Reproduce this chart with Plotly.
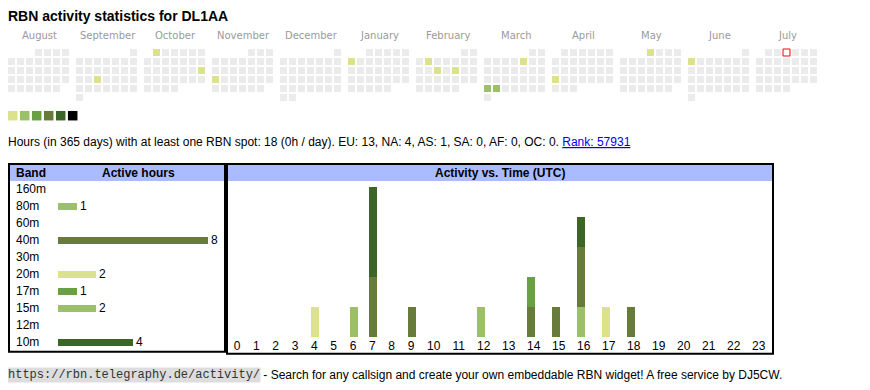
import datetime as dt
import plotly.graph_objects as go

# The page body adds an 8px margin, so the figure is sized to fill the rest of the window.
OFF = 8
SCREEN_W, SCREEN_H = 870, 390
W, H = SCREEN_W - OFF, SCREEN_H - OFF
TXT_PAD = 2  # annotation inner padding (border + borderpad)

# ---------------- data ----------------
TITLE = "RBN activity statistics for DL1AA"
MONTH_NAMES = ["August", "September", "October", "November", "December", "January",
               "February", "March", "April", "May", "June", "July"]
FIRST_YEAR, FIRST_MONTH = 2024, 8
TODAY = "2025-07-03"
ACTIVE_DATES = ["2024-09-18", "2024-10-01", "2024-10-20", "2024-11-18", "2025-01-06",
                "2025-02-04", "2025-02-12", "2025-02-14", "2025-03-07", "2025-03-24",
                "2025-03-25", "2025-04-21", "2025-05-01", "2025-06-02"]
ACTIVE_DATE_HOURS = [1, 1, 1, 1, 1, 1, 1, 1, 1, 3, 3, 1, 1, 1]
LEVEL_MIN_HOURS = [1, 2, 4, 6, 9, 13]
LEVEL_COLORS = ["#dbe28b", "#9cc06a", "#68a043", "#677b3b", "#3c6627", "#000000"]
EMPTY_COLOR = "#ebebeb"

INFO_TEXT = ("Hours (in 365 days) with at least one RBN spot: 18 (0h / day). "
             "EU: 13, NA: 4, AS: 1, SA: 0, AF: 0, OC: 0. ")
RANK_TEXT = "Rank: 57931"

BANDS = ["160m", "80m", "60m", "40m", "30m", "20m", "17m", "15m", "12m", "10m"]
BAND_HOURS = [0, 1, 0, 8, 0, 2, 1, 2, 0, 4]
BAND_COLORS = ["#cccccc", "#9cc06a", "#cccccc", "#677b3b", "#cccccc",
               "#dbe28b", "#68a043", "#9cc06a", "#cccccc", "#3c6627"]

HOURS = list(range(24))
ACT_80M = [0, 0, 0, 0, 0, 0, 0, 0, 0, 0, 0, 0, 0, 0, 0, 0, 1, 0, 0, 0, 0, 0, 0, 0]
ACT_40M = [0, 0, 0, 0, 0, 0, 0, 2, 0, 1, 0, 0, 0, 0, 1, 1, 2, 0, 1, 0, 0, 0, 0, 0]
ACT_20M = [0, 0, 0, 0, 1, 0, 0, 0, 0, 0, 0, 0, 0, 0, 0, 0, 0, 1, 0, 0, 0, 0, 0, 0]
ACT_17M = [0, 0, 0, 0, 0, 0, 0, 0, 0, 0, 0, 0, 0, 0, 1, 0, 0, 0, 0, 0, 0, 0, 0, 0]
ACT_15M = [0, 0, 0, 0, 0, 0, 1, 0, 0, 0, 0, 0, 1, 0, 0, 0, 0, 0, 0, 0, 0, 0, 0, 0]
ACT_10M = [0, 0, 0, 0, 0, 0, 0, 3, 0, 0, 0, 0, 0, 0, 0, 0, 1, 0, 0, 0, 0, 0, 0, 0]
ACTIVITY = [("80m", ACT_80M), ("40m", ACT_40M), ("20m", ACT_20M),
            ("17m", ACT_17M), ("15m", ACT_15M), ("10m", ACT_10M)]

FOOTER_URL = "https://rbn.telegraphy.de/activity/"
FOOTER_TEXT = " - Search for any callsign and create your own embeddable RBN widget! A free service by DJ5CW."

SANS = "Liberation Sans, Arial, sans-serif"


def fx(px):
    return (px - OFF) / W


def fy(py):
    return (SCREEN_H - py) / H


# ---------------- layout geometry (screen pixels) ----------------
CAL_LEFT, CAL_TOP = 8, 49
CELL, PITCH, BLOCK = 7, 9, 68

fig = go.Figure()

# ---------------- calendar ----------------
active = {d: h for d, h in zip(ACTIVE_DATES, ACTIVE_DATE_HOURS)}


def level_of(hours):
    lv = 0
    for i, m in enumerate(LEVEL_MIN_HOURS):
        if hours >= m:
            lv = i
    return lv


cx, cy, ccol, lcol, lw = [], [], [], [], []
ann = []
for m in range(12):
    y = FIRST_YEAR + (FIRST_MONTH - 1 + m) // 12
    mo = (FIRST_MONTH - 1 + m) % 12 + 1
    first = dt.date(y, mo, 1)
    nxt = dt.date(y + (mo == 12), mo % 12 + 1, 1)
    ndays = (nxt - first).days
    wd0 = first.weekday()
    left = CAL_LEFT + BLOCK * m
    for d in range(1, ndays + 1):
        idx = wd0 + d - 1
        col, row = idx % 7, idx // 7
        cx.append(left + PITCH * col + CELL / 2)
        cy.append(CAL_TOP + PITCH * row + CELL / 2)
        key = dt.date(y, mo, d).isoformat()
        if key in active:
            ccol.append(LEVEL_COLORS[level_of(active[key])])
        elif key == TODAY:
            ccol.append("#ffffff")
        else:
            ccol.append(EMPTY_COLOR)
        if key == TODAY:
            lcol.append("#ff0000")
            lw.append(1)
        else:
            lcol.append("rgba(0,0,0,0)")
            lw.append(0)
    ann.append(dict(text=MONTH_NAMES[m], x=left + (7 * PITCH - 2) / 2 + 1, y=35.8,
                    xref="x", yref="y", xanchor="center", yanchor="middle",
                    font=dict(family="DejaVu Sans", size=10, color="#9a9a9a")))

fig.add_trace(go.Scatter(x=cx, y=cy, mode="markers", xaxis="x", yaxis="y",
                         marker=dict(symbol="square", size=CELL, color=ccol,
                                     line=dict(color=lcol, width=lw)),
                         hoverinfo="skip", showlegend=False))

# level legend squares
fig.add_trace(go.Scatter(x=[CAL_LEFT + 4.7 + 12 * i for i in range(len(LEVEL_COLORS))],
                         y=[115.7] * len(LEVEL_COLORS), mode="markers", xaxis="x", yaxis="y",
                         marker=dict(symbol="square", size=9.5, color=LEVEL_COLORS,
                                     line=dict(width=0)),
                         hoverinfo="skip", showlegend=False))

# ---------------- band table ----------------
fig.add_trace(go.Bar(y=BANDS, x=BAND_HOURS, orientation="h", xaxis="x2", yaxis="y2",
                     marker=dict(color=BAND_COLORS, line=dict(width=0)), width=0.43,
                     text=[str(v) if v else "" for v in BAND_HOURS],
                     textposition="outside", cliponaxis=False, constraintext="none",
                     textfont=dict(family=SANS, size=12, color="#000"),
                     hoverinfo="skip", showlegend=False))

# ---------------- activity vs time ----------------
first_left = 233.7
col_w = [19.33 if h < 10 else 25.0 for h in HOURS]
lefts = []
acc = first_left
for h in HOURS:
    lefts.append(acc)
    acc += col_w[h]
bar_x = [l + 4 for l in lefts]
tick_x = [l + (3.3 if h < 10 else 6.7) for l, h in zip(lefts, HOURS)]

band_color = dict(zip(BANDS, BAND_COLORS))
for name, vals in ACTIVITY:
    fig.add_trace(go.Bar(x=bar_x, y=vals, width=8, xaxis="x3", yaxis="y3",
                         marker=dict(color=band_color[name], line=dict(width=0)),
                         hoverinfo="skip", showlegend=False, name=name))

# ---------------- shapes ----------------
shapes = [
    dict(type="rect", xref="x", yref="y", x0=10, x1=224, y0=165, y1=181,
         fillcolor="#aabbff", line=dict(width=0), layer="below"),
    dict(type="rect", xref="x", yref="y", x0=228, x1=772, y0=165, y1=181,
         fillcolor="#aabbff", line=dict(width=0), layer="below"),
    dict(type="rect", xref="x", yref="y", x0=9, x1=225, y0=164, y1=351.7,
         line=dict(color="#000", width=2), fillcolor="rgba(0,0,0,0)"),
    dict(type="rect", xref="x", yref="y", x0=227, x1=773, y0=164, y1=353.7,
         line=dict(color="#000", width=2), fillcolor="rgba(0,0,0,0)"),
]

# ---------------- texts ----------------
ann += [
    dict(text="<b>" + TITLE + "</b>", x=8, xshift=-TXT_PAD, y=16, xref="x", yref="y",
         xanchor="left", yanchor="middle", font=dict(family=SANS, size=14, color="#000")),
    dict(text=INFO_TEXT + "<span style='color:#0000ee'><u>" + RANK_TEXT + "</u></span>",
         x=8, xshift=-TXT_PAD, y=142, xref="x", yref="y", xanchor="left", yanchor="middle",
         font=dict(family=SANS, size=12, color="#000")),
    dict(text="<b>Band</b>", x=16, xshift=-TXT_PAD, y=173, xref="x", yref="y", xanchor="left",
         yanchor="middle", font=dict(family=SANS, size=12, color="#000")),
    dict(text="<b>Active hours</b>", x=138, y=173, xref="x", yref="y", xanchor="center",
         yanchor="middle", font=dict(family=SANS, size=12, color="#000")),
    dict(text="<b>Activity vs. Time (UTC)</b>", x=500, y=173, xref="x", yref="y",
         xanchor="center", yanchor="middle", font=dict(family=SANS, size=12, color="#000")),
    dict(text=FOOTER_URL, x=8, xshift=-1, y=374.5, xref="x", yref="y", xanchor="left",
         yanchor="middle", bgcolor="#dddddd", borderpad=0,
         font=dict(family="Liberation Mono, monospace", size=12, color="#333")),
    dict(text=FOOTER_TEXT, x=260, xshift=-TXT_PAD, y=374.5, xref="x", yref="y", xanchor="left",
         yanchor="middle", font=dict(family=SANS, size=12, color="#000")),
]
for b in BANDS:
    ann.append(dict(text=b, x=16, xshift=-TXT_PAD, y=b, xref="x", yref="y2", xanchor="left",
                    yanchor="middle", font=dict(family=SANS, size=12, color="#000")))
for a in ann:
    a["showarrow"] = False

fig.update_layout(
    width=W, height=H, margin=dict(l=0, r=0, t=0, b=0),
    paper_bgcolor="#ffffff", plot_bgcolor="rgba(0,0,0,0)",
    barmode="stack", bargap=0,
    xaxis=dict(domain=[0, 1], range=[OFF, SCREEN_W], visible=False, fixedrange=True),
    yaxis=dict(domain=[0, 1], range=[SCREEN_H, OFF], visible=False, fixedrange=True),
    xaxis2=dict(domain=[fx(58), fx(208)], range=[0, 8], visible=False, anchor="y2"),
    yaxis2=dict(domain=[fy(350.5), fy(180.5)], type="category",
                categoryorder="array", categoryarray=BANDS, range=[9.5, -0.5],
                visible=False, anchor="x2"),
    xaxis3=dict(domain=[fx(228), fx(772)], range=[228, 772], anchor="y3",
                tickmode="array", tickvals=tick_x, ticktext=[str(h) for h in HOURS],
                showgrid=False, zeroline=False, showline=False, ticks="",
                tickfont=dict(family=SANS, size=12, color="#000")),
    yaxis3=dict(domain=[fy(337), fy(187)], range=[0, 5], visible=False, anchor="x3"),
    shapes=shapes, annotations=ann,
)

fig.write_html("out.html")
